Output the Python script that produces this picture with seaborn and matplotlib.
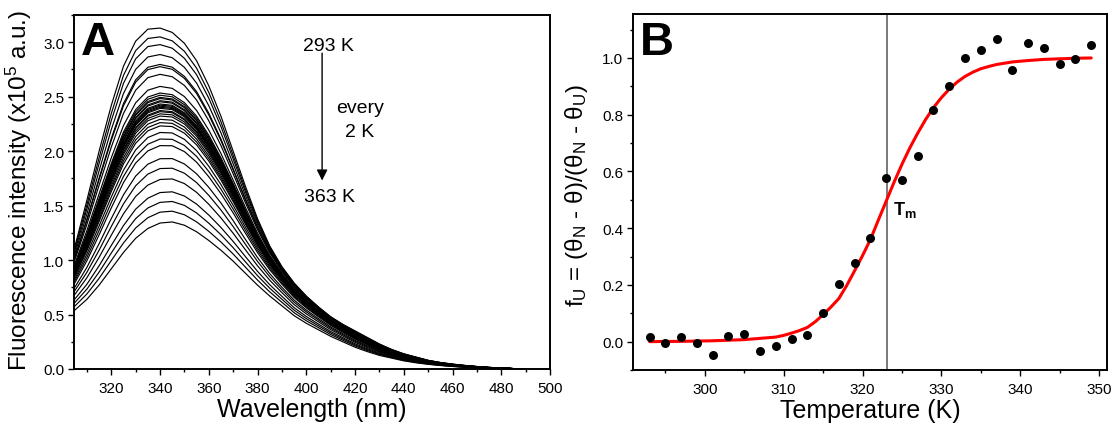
import numpy as np
import pandas as pd
import matplotlib
matplotlib.use("Agg")
import matplotlib.pyplot as plt
import seaborn as sns
from matplotlib.ticker import MultipleLocator

# ---------------- Panel A data ----------------
wavelength_nm = [305, 310, 315, 320, 325, 330, 335, 340, 345, 350, 355, 360, 365, 370,
                 375, 380, 385, 390, 395, 400, 405, 410, 415, 420, 425, 430, 435, 440,
                 445, 450, 455, 460, 465, 470, 475, 480, 485, 490]
spectrum_293K = [1.12, 1.55, 2.00, 2.42, 2.78, 3.01, 3.12, 3.13, 3.09, 2.99, 2.83, 2.60,
                 2.32, 2.00, 1.68, 1.38, 1.13, 0.94, 0.79, 0.67, 0.57, 0.48, 0.41, 0.35,
                 0.29, 0.23, 0.18, 0.14, 0.11, 0.08, 0.06, 0.045, 0.033, 0.023, 0.015,
                 0.009, 0.004, 0.0]
spectrum_363K = [0.54, 0.64, 0.77, 0.92, 1.07, 1.20, 1.29, 1.34, 1.35, 1.32, 1.26, 1.18,
                 1.09, 0.99, 0.88, 0.77, 0.67, 0.58, 0.49, 0.42, 0.36, 0.30, 0.25, 0.20,
                 0.16, 0.125, 0.10, 0.075, 0.057, 0.043, 0.032, 0.023, 0.016, 0.011,
                 0.007, 0.004, 0.002, 0.0]
spectra_temperatures = list(range(293, 364, 2))
peak_intensity = [3.13, 3.05, 2.98, 2.89, 2.80, 2.78, 2.71, 2.60, 2.54, 2.52, 2.50, 2.49,
                  2.47, 2.46, 2.44, 2.43, 2.42, 2.41, 2.40, 2.38, 2.37, 2.35, 2.33, 2.30,
                  2.27, 2.24, 2.18, 2.12, 2.06, 1.94, 1.85, 1.75, 1.63, 1.54, 1.45, 1.35]

# ---------------- Panel B data ----------------
temperature_K = list(range(293, 350, 2))
f_unfolded = [0.015, -0.006, 0.015, -0.006, -0.046, 0.019, 0.026, -0.034, -0.016, 0.008,
              0.025, 0.101, 0.203, 0.276, 0.366, 0.578, 0.571, 0.655, 0.817, 0.900,
              1.000, 1.028, 1.067, 0.959, 1.053, 1.035, 0.979, 0.998, 1.046]
fit_T = [293, 297, 301, 305, 309, 310, 311, 312, 313, 314, 315, 316, 317, 318, 319, 320,
         321, 322, 323, 324, 325, 326, 327, 328, 329, 330, 331, 332, 333, 334, 335, 336,
         337, 339, 341, 343, 345, 347, 349]
fit_f = [0.000, 0.001, 0.003, 0.007, 0.016, 0.022, 0.030, 0.039, 0.050, 0.070, 0.095,
         0.122, 0.152, 0.198, 0.250, 0.303, 0.360, 0.428, 0.495, 0.562, 0.625, 0.683,
         0.735, 0.783, 0.825, 0.860, 0.890, 0.915, 0.935, 0.950, 0.962, 0.970, 0.977,
         0.986, 0.991, 0.995, 0.997, 0.999, 1.000]
Tm = 323.1

# ---------------- build long tables ----------------
top = np.array(spectrum_293K) / max(spectrum_293K)
bot = np.array(spectrum_363K) / max(spectrum_363K)
p0, p1 = peak_intensity[0], peak_intensity[-1]
rows = []
for T, pk in zip(spectra_temperatures, peak_intensity):
    w = (p0 - pk) / (p0 - p1)
    shape = (1 - w) * top + w * bot
    for wl, v in zip(wavelength_nm, pk * shape):
        rows.append((T, wl, v))
dfA = pd.DataFrame(rows, columns=["T", "wavelength", "intensity"])
dfB = pd.DataFrame({"T": temperature_K, "fU": f_unfolded})
dfFit = pd.DataFrame({"T": fit_T, "fit": fit_f})

# ---------------- style ----------------
sns.set_theme(style="ticks")
plt.rcParams["font.family"] = ["Liberation Sans", "DejaVu Sans"]
plt.rcParams["mathtext.fontset"] = "custom"
plt.rcParams["mathtext.rm"] = "Liberation Sans"
plt.rcParams["mathtext.it"] = "Liberation Sans"
plt.rcParams["mathtext.bf"] = "Liberation Sans:bold"
plt.rcParams["text.color"] = "black"
plt.rcParams["axes.labelcolor"] = "black"

W, H = 1117, 427
fig = plt.figure(figsize=(W / 100, H / 100), dpi=100)
axA = fig.add_axes([74 / W, 57 / H, 476 / W, 354 / H])
axB = fig.add_axes([633 / W, 56 / H, 474 / W, 356 / H])

# ---------------- Panel A ----------------
sns.lineplot(data=dfA, x="wavelength", y="intensity", units="T", estimator=None,
             color="black", linewidth=0.85, ax=axA, legend=False)
axA.set_xlim(304.7, 500)
axA.set_ylim(0, 3.25)
axA.xaxis.set_major_locator(MultipleLocator(20))
axA.xaxis.set_minor_locator(MultipleLocator(10))
axA.yaxis.set_major_locator(MultipleLocator(0.5))
axA.yaxis.set_minor_locator(MultipleLocator(0.25))
axA.set_xlabel("Wavelength (nm)", fontsize=18)
axA.set_ylabel("Fluorescence intensity (x10$^5$ a.u.)", fontsize=17.5)
axA.text(0.014, 0.89, "A", transform=axA.transAxes, fontsize=34, fontweight="bold",
         va="baseline", ha="left")
axA.text(409, 2.93, "293 K", fontsize=14, ha="center", va="baseline")
axA.text(409.5, 1.545, "363 K", fontsize=14, ha="center", va="baseline")
axA.text(422, 2.36, "every", fontsize=14, ha="center", va="baseline")
axA.text(422, 2.14, "2 K", fontsize=14, ha="center", va="baseline")
axA.annotate("", xy=(406.5, 1.73), xytext=(406.5, 2.90),
             arrowprops=dict(arrowstyle="-|>", color="black", lw=1.0,
                             mutation_scale=16, shrinkA=0, shrinkB=0))

# ---------------- Panel B ----------------
axB.axvline(Tm, color="#555555", linewidth=1.1, zorder=1)
sns.lineplot(data=dfFit, x="T", y="fit", color="red", linewidth=2.2, ax=axB, zorder=2)
sns.scatterplot(data=dfB, x="T", y="fU", color="black", s=42, linewidth=0, ax=axB,
                zorder=3, legend=False)
axB.set_xlim(290.9, 351)
axB.set_ylim(-0.1, 1.155)
axB.xaxis.set_major_locator(MultipleLocator(10))
axB.xaxis.set_minor_locator(MultipleLocator(5))
axB.yaxis.set_major_locator(MultipleLocator(0.2))
axB.yaxis.set_minor_locator(MultipleLocator(0.1))
axB.set_xlabel("Temperature (K)", fontsize=18)
axB.set_ylabel(r"f$_U$ = ($\theta_N$ - $\theta$)/($\theta_N$ - $\theta_U$)", fontsize=17.5)
axB.text(0.015, 0.888, "B", transform=axB.transAxes, fontsize=34, fontweight="bold",
         va="baseline", ha="left")
axB.text(323.9, 0.45, r"$\mathbf{T_m}$", fontsize=13, ha="left", va="baseline")

for ax in (axA, axB):
    for s in ax.spines.values():
        s.set_visible(True)
        s.set_color("black")
        s.set_linewidth(1.4)
    ax.tick_params(which="major", direction="out", length=4, width=1.0,
                   labelsize=11, colors="black")
    ax.tick_params(which="minor", direction="out", length=2.5, width=1.0, colors="black")
    ax.tick_params(axis="x", which="major", pad=5)
    ax.tick_params(axis="y", which="major", pad=3)

axA.yaxis.set_label_coords(-0.085, 0.508)
axB.yaxis.set_label_coords(-0.09, 0.494)
axA.xaxis.set_label_coords(0.5, -0.078)
axB.xaxis.set_label_coords(0.5, -0.078)

fig.savefig("out.png", dpi=100)
